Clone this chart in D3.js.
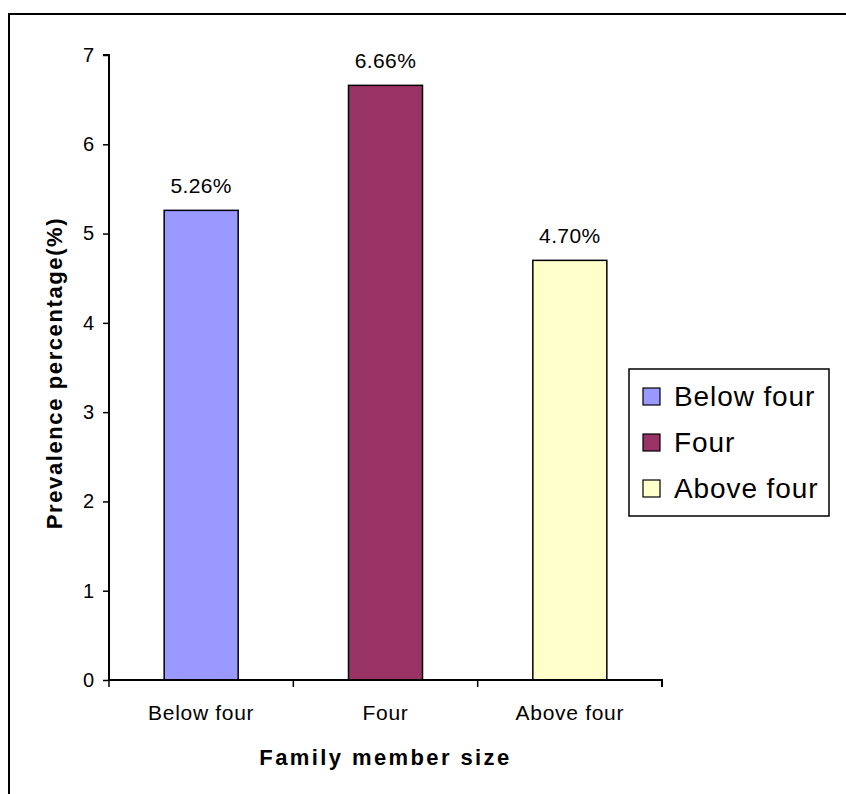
<!DOCTYPE html>
<html>
<head>
<meta charset="utf-8">
<script src="https://cdn.jsdelivr.net/npm/d3@7/dist/d3.min.js"></script>
<style>
  body { margin: 0; background: #fff; }
  svg { display: block; font-family: "Liberation Sans", Arial, sans-serif; }
</style>
</head>
<body>
<div id="chart"></div>
<script>
const categories = ["Below four", "Four", "Above four"];
const values = [5.26, 6.66, 4.70];
const valueLabels = ["5.26%", "6.66%", "4.70%"];
const colors = ["#9999ff", "#993366", "#ffffcc"];
const yTicks = [0, 1, 2, 3, 4, 5, 6, 7];

const width = 846, height = 794;
const margin = { left: 109, top: 55, right: 184, bottom: 114 };
const FONT = "Liberation Sans, Arial, sans-serif";

const svg = d3.select("#chart").append("svg")
  .attr("width", width)
  .attr("height", height);

// outer frame (right/bottom edges fall outside the picture)
svg.append("rect")
  .attr("x", 9).attr("y", 14)
  .attr("width", 860).attr("height", 800)
  .attr("fill", "#fff")
  .attr("stroke", "#000")
  .attr("stroke-width", 2);

const x = d3.scaleBand()
  .domain(categories)
  .range([margin.left, width - margin.right])
  .paddingInner(0)
  .paddingOuter(0);

const y = d3.scaleLinear()
  .domain([0, 7])
  .range([height - margin.bottom, margin.top]);

const barW = 74;

// bars
svg.selectAll(".bar")
  .data(categories)
  .join("rect")
  .attr("class", "bar")
  .attr("x", d => x(d) + x.bandwidth() / 2 - barW / 2)
  .attr("y", (d, i) => y(values[i]))
  .attr("width", barW)
  .attr("height", (d, i) => y(0) - y(values[i]))
  .attr("fill", (d, i) => colors[i])
  .attr("stroke", "#000")
  .attr("stroke-width", 1.5);

// value labels
svg.selectAll(".val")
  .data(categories)
  .join("text")
  .attr("class", "val")
  .attr("x", d => x(d) + x.bandwidth() / 2)
  .attr("y", (d, i) => y(values[i]) - 17)
  .attr("text-anchor", "middle")
  .attr("font-size", 21)
  .attr("letter-spacing", 0.4)
  .text((d, i) => valueLabels[i]);

// y axis
const yAxis = svg.append("g")
  .attr("transform", `translate(${margin.left},0)`)
  .call(d3.axisLeft(y).tickValues(yTicks).tickSize(6).tickPadding(9).tickFormat(d3.format("d")));
yAxis.select(".domain").attr("stroke-width", 2).attr("d", `M-6,${y(7)}H0V${y(0)}`);
yAxis.selectAll(".tick line").attr("stroke-width", 1.5);
yAxis.selectAll("text").attr("font-size", 20).attr("fill", "#000").attr("font-family", FONT);

// x axis
const xAxis = svg.append("g")
  .attr("transform", `translate(0,${y(0)})`)
  .call(d3.axisBottom(x).tickSize(0).tickPadding(25));
xAxis.select(".domain").attr("stroke-width", 2)
  .attr("d", `M${margin.left},0H${width - margin.right}V7`);
xAxis.selectAll("text").attr("font-size", 21).attr("fill", "#000")
  .attr("letter-spacing", 0.7).attr("font-family", FONT);
const xBounds = categories.map(c => x(c));
xAxis.selectAll(".sep")
  .data(xBounds)
  .join("line")
  .attr("class", "sep")
  .attr("x1", d => d).attr("x2", d => d)
  .attr("y1", 0).attr("y2", 7)
  .attr("stroke", "#000").attr("stroke-width", 1.5);

// axis titles
svg.append("text")
  .attr("x", (margin.left + width - margin.right) / 2)
  .attr("y", 765)
  .attr("text-anchor", "middle")
  .attr("font-size", 22)
  .attr("font-weight", "bold")
  .attr("letter-spacing", 2.4)
  .text("Family member size");

svg.append("text")
  .attr("transform", "translate(62,373) rotate(-90)")
  .attr("text-anchor", "middle")
  .attr("font-size", 22)
  .attr("font-weight", "bold")
  .attr("letter-spacing", 1.6)
  .text("Prevalence percentage(%)");

// legend
const lg = svg.append("g").attr("transform", "translate(629,369)");
lg.append("rect")
  .attr("width", 200).attr("height", 147)
  .attr("fill", "#fff").attr("stroke", "#000").attr("stroke-width", 1.5);
const items = lg.selectAll(".item")
  .data(categories)
  .join("g")
  .attr("class", "item")
  .attr("transform", (d, i) => `translate(14,${27 + i * 46})`);
items.append("rect")
  .attr("x", 0).attr("y", -8)
  .attr("width", 17).attr("height", 17)
  .attr("fill", (d, i) => colors[i])
  .attr("stroke", "#000").attr("stroke-width", 1.2);
items.append("text")
  .attr("x", 31).attr("y", 10)
  .attr("font-size", 28)
  .attr("letter-spacing", 0.9)
  .text(d => d);
</script>
</body>
</html>
